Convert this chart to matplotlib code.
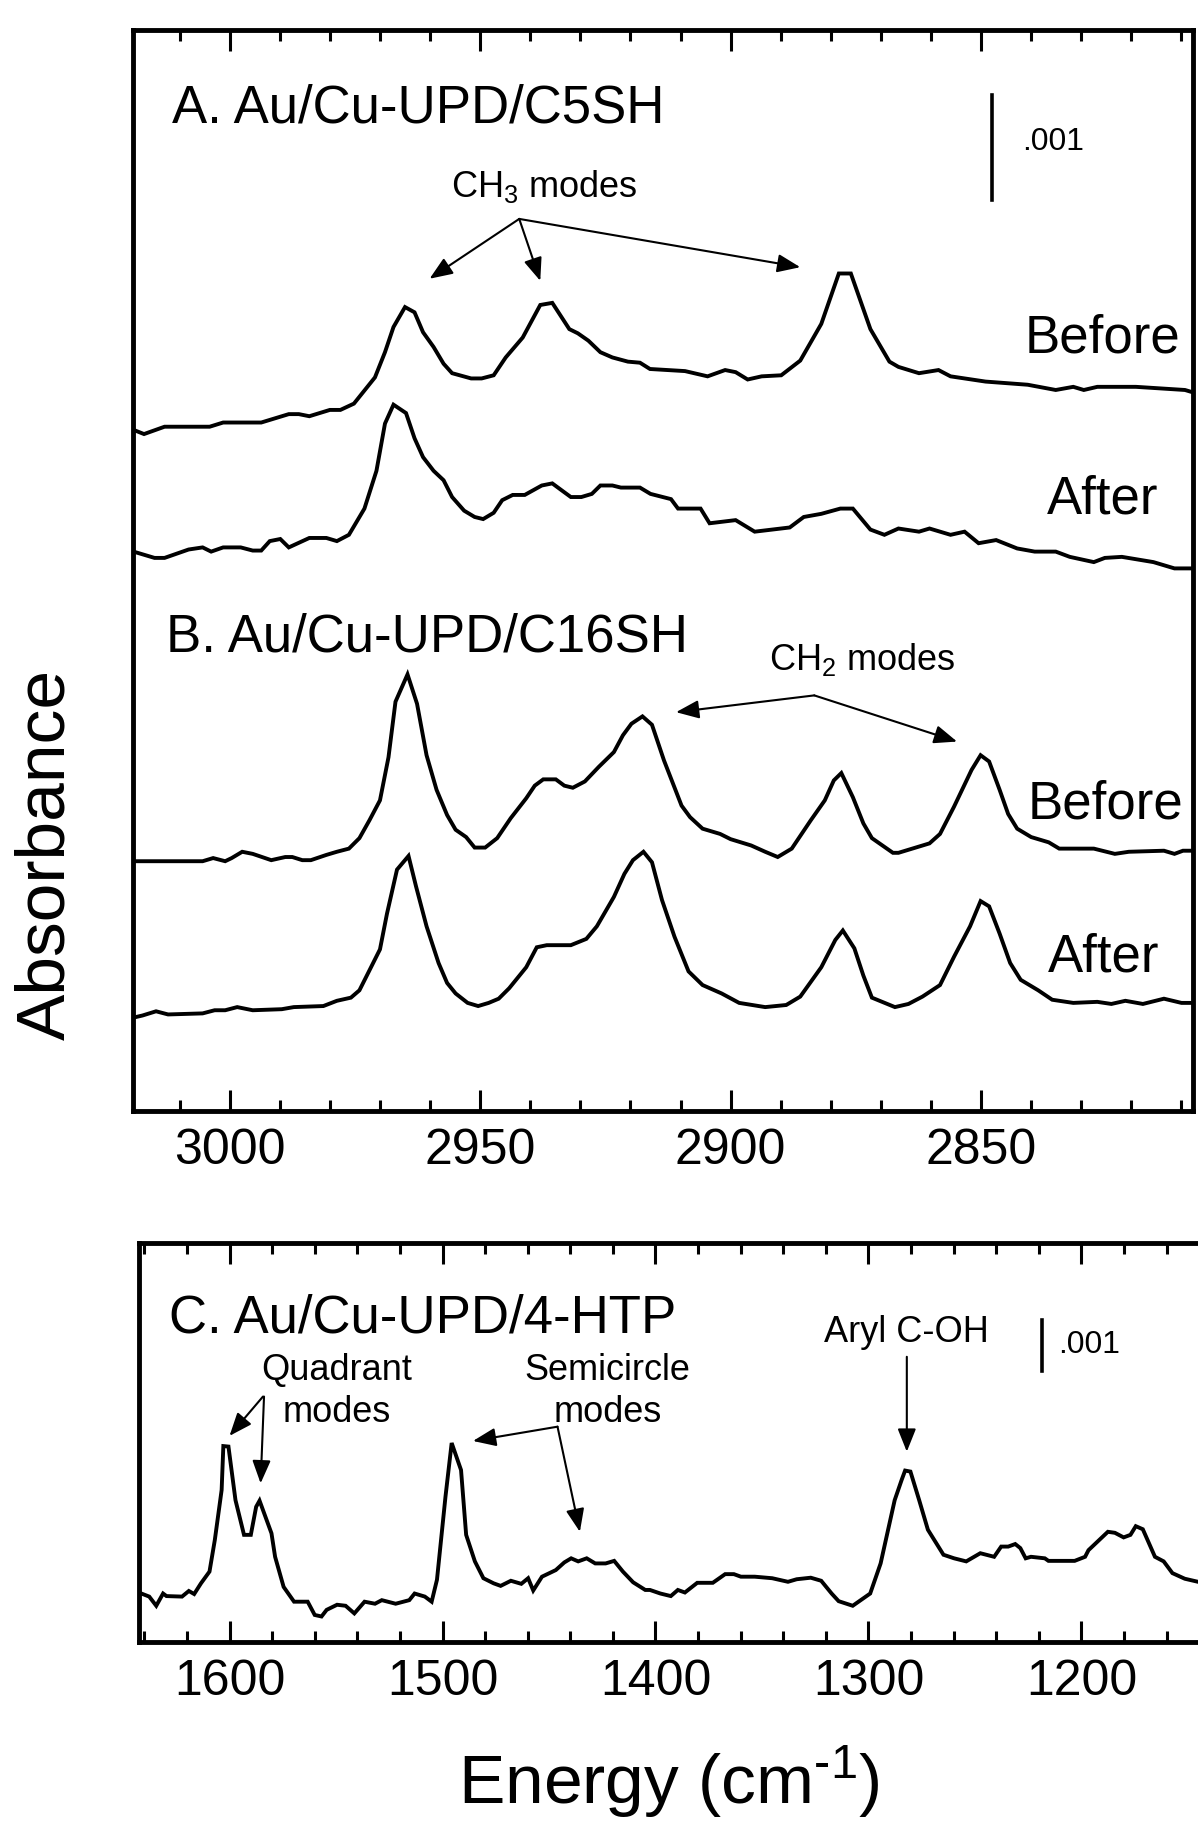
import matplotlib
matplotlib.use("Agg")
import matplotlib.pyplot as plt
from matplotlib.ticker import MultipleLocator

plt.rcParams['font.family'] = ['Liberation Sans', 'DejaVu Sans']
plt.rcParams['mathtext.fontset'] = 'custom'
plt.rcParams['mathtext.rm'] = 'Liberation Sans'
plt.rcParams['mathtext.it'] = 'Liberation Sans'

# ---------------------------------------------------------------------
# DATA (absorbance in units of 0.001, wavenumbers in cm-1)
# ---------------------------------------------------------------------
# Panel A: Au/Cu-UPD/C5SH, before
a_before_wn = [3019.2, 3017.1, 3013.0, 3004.0, 3001.3, 2993.7, 2988.2, 2986.2, 2984.1,
               2980.0, 2977.9, 2975.2, 2971.0, 2969.0, 2967.3, 2965.0, 2963.1, 2961.4,
               2959.3, 2957.3, 2955.6, 2951.8, 2949.7, 2947.3, 2944.9, 2941.5, 2938.0,
               2935.6, 2932.2, 2930.5, 2928.4, 2926.0, 2923.6, 2920.5, 2918.1, 2916.1,
               2909.1, 2904.6, 2901.1, 2899.0, 2896.6, 2893.8, 2889.9, 2886.1, 2881.9,
               2878.4, 2876.0, 2872.1, 2868.3, 2866.5, 2862.4, 2858.5, 2856.1, 2849.1,
               2840.7, 2835.1, 2831.6, 2829.5, 2826.8, 2819.1, 2809.3, 2807.9]
a_before_abs = [6.49, 6.45, 6.52, 6.52, 6.56, 6.56, 6.64, 6.64, 6.62,
                6.68, 6.68, 6.74, 6.99, 7.23, 7.47, 7.66, 7.61, 7.42,
                7.28, 7.12, 7.03, 6.98, 6.98, 7.01, 7.18, 7.37, 7.68,
                7.70, 7.45, 7.41, 7.34, 7.23, 7.18, 7.14, 7.13, 7.07,
                7.05, 7.00, 7.06, 7.04, 6.97, 7.00, 7.01, 7.15, 7.50,
                7.98, 7.98, 7.45, 7.14, 7.09, 7.03, 7.06, 7.00, 6.95,
                6.92, 6.87, 6.90, 6.87, 6.90, 6.90, 6.87, 6.85]

# Panel A: after
a_after_wn = [3019.2, 3015.0, 3013.0, 3008.2, 3005.4, 3003.7, 3001.3, 2997.8, 2995.4,
              2993.7, 2992.0, 2989.9, 2988.2, 2984.1, 2980.7, 2978.6, 2976.2, 2973.1,
              2970.7, 2969.0, 2967.3, 2964.8, 2963.1, 2961.4, 2959.3, 2957.3, 2955.6,
              2953.2, 2951.1, 2949.4, 2947.3, 2945.6, 2943.5, 2941.1, 2937.7, 2935.6,
              2933.9, 2931.9, 2929.8, 2927.7, 2926.0, 2923.6, 2921.9, 2918.1, 2916.0,
              2911.9, 2910.5, 2906.0, 2904.2, 2899.0, 2895.2, 2888.2, 2885.4, 2881.9,
              2878.1, 2875.6, 2872.1, 2869.3, 2866.5, 2862.4, 2860.3, 2856.1, 2853.3,
              2850.5, 2847.0, 2842.8, 2839.3, 2835.1, 2832.3, 2827.5, 2825.3, 2821.9,
              2815.6, 2811.4, 2807.9]
a_after_abs = [5.33, 5.27, 5.27, 5.35, 5.37, 5.33, 5.37, 5.37, 5.34,
               5.34, 5.43, 5.45, 5.37, 5.46, 5.46, 5.43, 5.49, 5.74,
               6.10, 6.55, 6.73, 6.65, 6.41, 6.23, 6.10, 6.01, 5.85,
               5.72, 5.66, 5.64, 5.70, 5.82, 5.87, 5.87, 5.96, 5.98,
               5.92, 5.85, 5.85, 5.88, 5.96, 5.96, 5.94, 5.94, 5.88,
               5.83, 5.74, 5.74, 5.60, 5.63, 5.52, 5.56, 5.66, 5.69,
               5.74, 5.74, 5.54, 5.49, 5.55, 5.52, 5.55, 5.49, 5.52,
               5.41, 5.44, 5.36, 5.33, 5.33, 5.28, 5.23, 5.27, 5.28,
               5.23, 5.17, 5.17]

# Panel B: Au/Cu-UPD/C16SH, before
b_before_wn = [3018.6, 3005.4, 3003.3, 3000.9, 2999.6, 2997.5, 2995.4, 2991.7, 2988.9,
               2987.5, 2985.5, 2983.8, 2980.7, 2978.6, 2976.2, 2974.1, 2972.1, 2970.0,
               2968.3, 2966.9, 2964.5, 2962.6, 2960.7, 2958.7, 2956.6, 2954.9, 2952.8,
               2951.1, 2949.0, 2946.6, 2943.9, 2940.8, 2939.1, 2937.4, 2934.9, 2933.2,
               2931.5, 2929.1, 2926.3, 2923.3, 2921.5, 2919.8, 2917.6, 2915.7, 2913.3,
               2909.8, 2908.1, 2905.6, 2902.1, 2900.0, 2895.9, 2893.1, 2890.6, 2887.8,
               2884.0, 2881.2, 2879.4, 2877.9, 2875.6, 2873.5, 2871.8, 2867.6, 2866.5,
               2860.3, 2858.2, 2855.4, 2851.9, 2850.1, 2848.4, 2846.3, 2844.6, 2842.8,
               2840.0, 2836.5, 2834.4, 2827.5, 2823.3, 2820.5, 2813.5, 2811.4, 2809.7,
               2807.6]
b_before_abs = [2.38, 2.38, 2.41, 2.38, 2.41, 2.47, 2.45, 2.39, 2.42,
                2.42, 2.39, 2.39, 2.44, 2.47, 2.50, 2.60, 2.77, 2.96,
                3.37, 3.90, 4.16, 3.88, 3.39, 3.06, 2.82, 2.68, 2.61,
                2.51, 2.51, 2.60, 2.79, 2.98, 3.10, 3.16, 3.16, 3.10,
                3.08, 3.14, 3.28, 3.42, 3.58, 3.69, 3.76, 3.68, 3.34,
                2.91, 2.80, 2.69, 2.64, 2.59, 2.53, 2.47, 2.42, 2.50,
                2.77, 2.96, 3.15, 3.22, 2.99, 2.74, 2.60, 2.46, 2.46,
                2.55, 2.64, 2.90, 3.25, 3.39, 3.33, 3.06, 2.83, 2.69,
                2.61, 2.56, 2.50, 2.50, 2.45, 2.47, 2.48, 2.45, 2.48,
                2.48]

# Panel B: after
b_after_wn = [3019.2, 3017.4, 3014.7, 3012.3, 3005.4, 3003.0, 3000.9, 2998.5, 2995.4,
              2989.6, 2987.2, 2981.3, 2978.6, 2975.8, 2974.1, 2972.1, 2970.0, 2968.6,
              2966.6, 2964.3, 2962.8, 2960.7, 2958.3, 2956.6, 2954.9, 2952.5, 2950.4,
              2948.3, 2946.3, 2944.2, 2940.8, 2938.7, 2936.7, 2931.9, 2928.8, 2926.7,
              2923.3, 2921.2, 2919.5, 2917.4, 2915.7, 2913.7, 2911.2, 2908.4, 2905.6,
              2901.8, 2898.3, 2893.1, 2888.9, 2886.1, 2881.9, 2879.1, 2877.6, 2875.3,
              2873.5, 2871.8, 2867.2, 2864.5, 2861.7, 2858.2, 2855.4, 2852.2, 2850.1,
              2848.4, 2846.3, 2844.2, 2842.1, 2838.6, 2835.8, 2831.6, 2826.8, 2824.0,
              2821.2, 2817.7, 2813.5, 2810.0, 2807.6]
b_after_abs = [0.89, 0.91, 0.95, 0.92, 0.93, 0.96, 0.96, 0.99, 0.96,
               0.97, 0.99, 1.00, 1.05, 1.08, 1.15, 1.34, 1.54, 1.88,
               2.30, 2.43, 2.14, 1.76, 1.41, 1.22, 1.12, 1.03, 1.00,
               1.03, 1.07, 1.17, 1.37, 1.56, 1.58, 1.58, 1.64, 1.76,
               2.04, 2.26, 2.39, 2.47, 2.37, 2.01, 1.66, 1.33, 1.20,
               1.12, 1.03, 0.99, 1.01, 1.09, 1.37, 1.63, 1.72, 1.55,
               1.29, 1.08, 0.99, 1.02, 1.09, 1.20, 1.47, 1.76, 2.00,
               1.95, 1.69, 1.41, 1.25, 1.15, 1.06, 1.03, 1.04, 1.02,
               1.05, 1.02, 1.07, 1.03, 1.03]

# Panel C: Au/Cu-UPD/4-HTP
c_wn = [1641.4, 1637.7, 1634.4, 1631.2, 1629.6, 1622.3, 1619.1, 1616.6, 1613.4,
        1609.4, 1606.9, 1603.7, 1602.9, 1600.5, 1597.2, 1593.2, 1590.0, 1587.5,
        1585.9, 1580.3, 1578.6, 1574.6, 1569.7, 1563.3, 1560.0, 1556.8, 1554.4,
        1549.5, 1545.5, 1541.4, 1536.6, 1531.7, 1528.5, 1522.0, 1515.6, 1513.1,
        1508.3, 1505.1, 1502.6, 1498.6, 1495.7, 1491.3, 1488.9, 1484.8, 1480.8,
        1476.0, 1472.7, 1467.9, 1463.0, 1459.8, 1457.4, 1453.3, 1446.8, 1442.8,
        1439.6, 1436.3, 1432.3, 1428.3, 1423.4, 1419.4, 1415.3, 1410.5, 1404.8,
        1402.6, 1397.7, 1392.8, 1389.5, 1386.2, 1380.4, 1373.1, 1367.3, 1363.2,
        1359.9, 1353.4, 1345.2, 1337.8, 1333.7, 1327.1, 1322.2, 1317.3, 1314.0,
        1307.4, 1299.2, 1294.3, 1291.0, 1287.7, 1284.4, 1282.8, 1280.3, 1276.2,
        1272.1, 1264.8, 1259.8, 1254.1, 1247.5, 1241.0, 1237.7, 1234.4, 1231.1,
        1228.7, 1226.2, 1223.7, 1217.2, 1215.5, 1203.2, 1198.3, 1196.7, 1187.6,
        1184.3, 1180.2, 1177.0, 1174.5, 1171.2, 1165.5, 1161.4, 1157.3, 1151.5,
        1145.3]
c_abs = [0.95, 0.89, 0.71, 0.95, 0.90, 0.89, 1.00, 0.94, 1.15,
         1.38, 2.00, 2.98, 3.84, 3.83, 2.78, 2.10, 2.10, 2.65,
         2.77, 2.13, 1.67, 1.08, 0.79, 0.79, 0.53, 0.50, 0.63,
         0.73, 0.71, 0.56, 0.79, 0.75, 0.82, 0.75, 0.82, 0.95,
         0.89, 0.79, 1.22, 2.85, 3.90, 3.37, 2.10, 1.58, 1.25,
         1.15, 1.10, 1.20, 1.14, 1.25, 1.01, 1.28, 1.41, 1.56,
         1.64, 1.58, 1.64, 1.54, 1.54, 1.59, 1.38, 1.17, 1.02,
         1.02, 0.95, 0.90, 1.02, 0.97, 1.16, 1.16, 1.33, 1.33,
         1.28, 1.28, 1.25, 1.18, 1.23, 1.26, 1.20, 0.95, 0.80,
         0.71, 0.95, 1.54, 2.16, 2.78, 3.18, 3.36, 3.34, 2.78,
         2.20, 1.71, 1.64, 1.58, 1.74, 1.67, 1.87, 1.87, 1.92,
         1.84, 1.64, 1.67, 1.64, 1.59, 1.59, 1.67, 1.80, 2.16,
         2.14, 2.05, 2.10, 2.27, 2.21, 1.67, 1.58, 1.35, 1.24,
         1.18]

top_major_ticks = [3000, 2950, 2900, 2850]
c_major_ticks = [1600, 1500, 1400, 1300, 1200]

# =====================================================================
# FIGURE
# =====================================================================
fig = plt.figure(figsize=(11.98, 18.23), dpi=100)
W, H = 1198, 1823


def px_axes(left, top, right, bottom):
    return fig.add_axes([left / W, 1 - bottom / H, (right - left) / W, (bottom - top) / H])


def style_axes(ax, major, minor, ticks):
    ax.xaxis.set_major_locator(MultipleLocator(major))
    ax.xaxis.set_minor_locator(MultipleLocator(minor))
    ax.set_xticks(ticks)
    ax.set_xticklabels([str(t) for t in ticks])
    ax.tick_params(which='both', direction='in', top=True, bottom=True,
                   left=False, right=False, labelleft=False, width=2.2)
    ax.tick_params(which='major', length=15, labelsize=36, pad=12)
    ax.tick_params(which='minor', length=8)
    for s in ax.spines.values():
        s.set_linewidth(3.5)


arrow_kw = dict(arrowstyle='-|>,head_length=0.7,head_width=0.28', color='k',
                lw=1.5, mutation_scale=20, shrinkA=0, shrinkB=0)
line_kw = dict(color='k', lw=2.8, solid_joinstyle='miter')

# --- Panels A and B (shared frame) ---
ax = px_axes(133, 30, 1193, 1111)
ax.plot(a_before_wn, a_before_abs, **line_kw)
ax.plot(a_after_wn, a_after_abs, **line_kw)
ax.plot(b_before_wn, b_before_abs, **line_kw)
ax.plot(b_after_wn, b_after_abs, **line_kw)
ax.set_xlim(3019.3, 2807.7)
ax.set_ylim(0, 10.30)
style_axes(ax, 50, 10, top_major_ticks)

ax.text(3011.5, 9.42, 'A. Au/Cu-UPD/C5SH', fontsize=38, va='baseline')
ax.text(3012.7, 4.38, 'B. Au/Cu-UPD/C16SH', fontsize=38, va='baseline')
ax.text(2841.4, 7.23, 'Before', fontsize=38, va='baseline')
ax.text(2836.9, 5.69, 'After', fontsize=38, va='baseline')
ax.text(2840.8, 2.79, 'Before', fontsize=38, va='baseline')
ax.text(2836.6, 1.33, 'After', fontsize=38, va='baseline')

# scale bar
ax.plot([2847.8, 2847.8], [8.68, 9.68], color='k', lw=2.6)
ax.text(2841.8, 9.23, '.001', fontsize=23, va='center')

# CH3 annotations
ax.text(2955.8, 8.71, r'CH$_\mathregular{3}$ modes', fontsize=26, va='baseline')
for hx, hy in [(2960.1, 7.93), (2938.0, 7.91), (2886.1, 8.04)]:
    ax.annotate('', xy=(hx, hy), xytext=(2942.2, 8.50), arrowprops=arrow_kw)

# CH2 annotations
ax.text(2892.3, 4.20, r'CH$_\mathregular{2}$ modes', fontsize=26, va='baseline')
for hx, hy in [(2910.9, 3.80), (2854.8, 3.52)]:
    ax.annotate('', xy=(hx, hy), xytext=(2883.3, 3.96), arrowprops=arrow_kw)

# --- Panel C ---
axc = px_axes(139, 1243, 1205, 1642)
axc.plot(c_wn, c_abs, **line_kw)
axc.set_xlim(1642.5, 1142.0)
axc.set_ylim(0, 7.82)
style_axes(axc, 100, 20, c_major_ticks)

axc.text(1628.4, 6.06, 'C. Au/Cu-UPD/4-HTP', fontsize=38, va='baseline')

axc.text(1549.8, 5.14, 'Quadrant', fontsize=26, ha='center', va='baseline')
axc.text(1549.8, 4.31, 'modes', fontsize=26, ha='center', va='baseline')
axc.annotate('', xy=(1600.0, 4.04), xytext=(1584.3, 4.81), arrowprops=arrow_kw)
axc.annotate('', xy=(1585.4, 3.11), xytext=(1583.8, 4.81), arrowprops=arrow_kw)

axc.text(1422.4, 5.14, 'Semicircle', fontsize=26, ha='center', va='baseline')
axc.text(1422.4, 4.31, 'modes', fontsize=26, ha='center', va='baseline')
axc.annotate('', xy=(1485.7, 3.94), xytext=(1446.0, 4.22), arrowprops=arrow_kw)
axc.annotate('', xy=(1435.5, 2.16), xytext=(1446.0, 4.22), arrowprops=arrow_kw)

axc.text(1282.0, 5.88, 'Aryl C-OH', fontsize=26, ha='center', va='baseline')
axc.annotate('', xy=(1282.0, 3.73), xytext=(1282.0, 5.59), arrowprops=arrow_kw)

axc.plot([1218.5, 1218.5], [5.32, 6.32], color='k', lw=2.6)
axc.text(1211.0, 5.82, '.001', fontsize=23, va='center')

# --- axis titles ---
fig.text(46 / W, 1 - 854 / H, 'Absorbance', rotation=90, fontsize=50,
         ha='center', va='center')
fig.text(669 / W, 1 - 1804 / H, 'Energy (cm$^{\\mathregular{\u20101}}$)', fontsize=50,
         ha='center', va='baseline')

fig.savefig('out.png', dpi=100)
